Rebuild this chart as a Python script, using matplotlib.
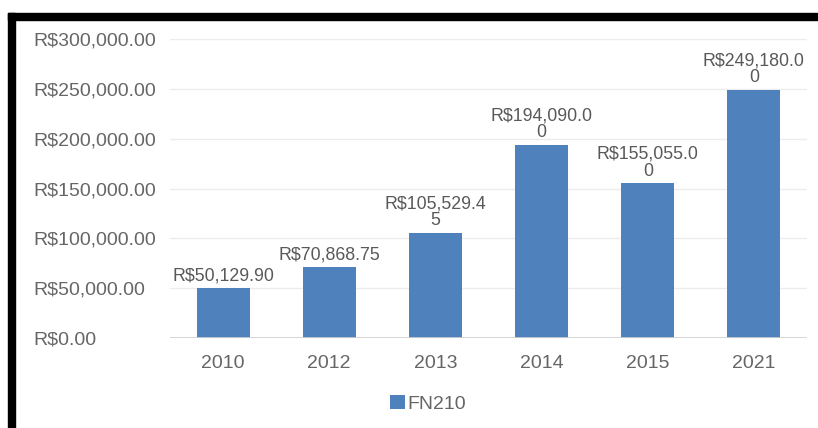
import matplotlib
matplotlib.use("Agg")
import matplotlib.pyplot as plt
from matplotlib.patches import Rectangle

categories = ["2010", "2012", "2013", "2014", "2015", "2021"]
values = [50129.90, 70868.75, 105529.45, 194090.00, 155055.00, 249180.00]
labels = ["R$50,129.90", "R$70,868.75", "R$105,529.4\n5", "R$194,090.0\n0",
          "R$155,055.0\n0", "R$249,180.0\n0"]
yticks = [0, 50000, 100000, 150000, 200000, 250000, 300000]
ytick_labels = ["R$0.00", "R$50,000.00", "R$100,000.00", "R$150,000.00",
                "R$200,000.00", "R$250,000.00", "R$300,000.00"]
series_name = "FN210"

plt.rcParams['font.family'] = ['Liberation Sans', 'DejaVu Sans']

W, H = 818, 428
fig = plt.figure(figsize=(W / 100, H / 100), dpi=100)
fig.patch.set_facecolor("white")

ax = fig.add_axes([170 / W, 1 - 338 / H, (807 - 170) / W, (338 - 39) / H])
x = list(range(len(categories)))
bars = ax.bar(x, values, width=0.5, color="#4f81bd", label=series_name, zorder=3)

ax.set_xlim(-0.5, len(categories) - 0.5)
ax.set_ylim(0, 300000)
ax.set_yticks(yticks)
ax.set_yticklabels(ytick_labels)
ax.set_xticks(x)
ax.set_xticklabels(categories)
for s in ax.spines.values():
    s.set_visible(False)
ax.tick_params(axis="y", length=0, pad=98.6, labelsize=14, labelcolor="#666666")
for t in ax.get_yticklabels():
    t.set_horizontalalignment("left")
ax.tick_params(axis="x", length=0, pad=12, labelsize=14, labelcolor="#666666")
ax.grid(axis="y", color="#ececec", linewidth=1, zorder=0)
ax.set_axisbelow(True)
ax.axhline(0, color="#d0d0d0", linewidth=1.2, zorder=4)

for xi, v, lab in zip(x, values, labels):
    ax.annotate(lab, (xi, v), xytext=(0, 2.5), textcoords="offset points",
                ha="center", va="bottom", fontsize=12.8, color="#595959",
                linespacing=1.0)

fig.legend(handles=[bars], labels=[series_name], loc="center",
           bbox_to_anchor=(428 / W, 1 - 404 / H), frameon=False,
           fontsize=14, labelcolor="#666666", handlelength=0.75,
           handleheight=0.75, handletextpad=0.15)

# black frame pieces
fig.patches.append(Rectangle((8 / W, 1 - 20 / H), 1 - 8 / W, 7 / H,
                             transform=fig.transFigure, color="black", zorder=10))
fig.patches.append(Rectangle((8 / W, 0), 7 / W, 1 - 13 / H,
                             transform=fig.transFigure, color="black", zorder=10))

fig.savefig("out.png", dpi=100, facecolor="white")
